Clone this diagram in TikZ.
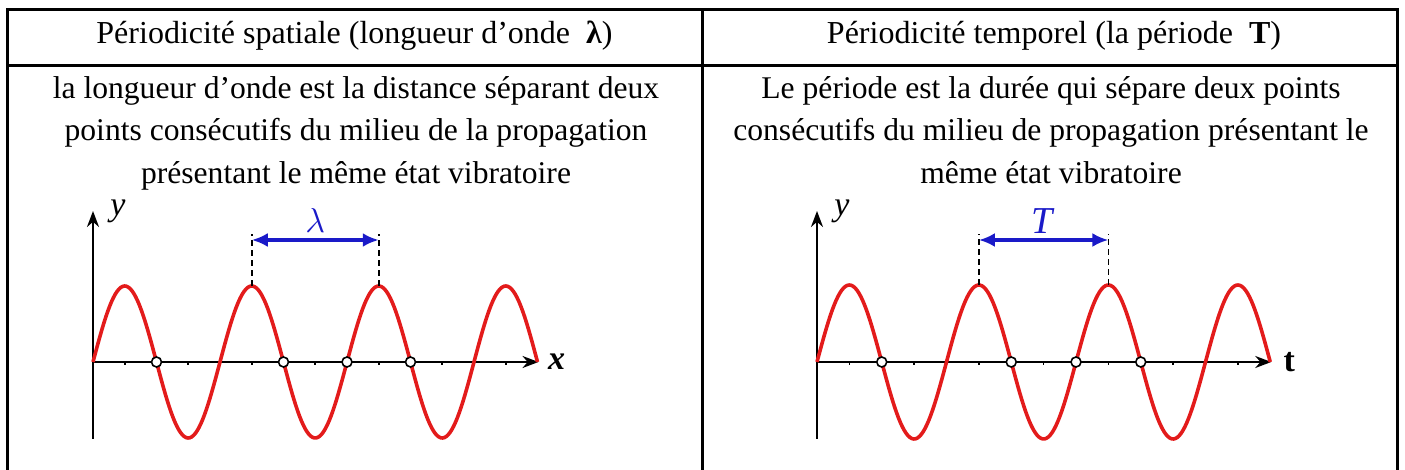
\documentclass[tikz,border=0pt]{standalone}
\usepackage{fontspec}
\setmainfont{Liberation Serif}
\usepackage{tikz}
\usetikzlibrary{arrows.meta, calc}
\definecolor{wavered}{HTML}{E31B1B}
\definecolor{dimblue}{HTML}{1A1AC8}

\begin{document}
\begin{tikzpicture}[x=0.5pt, y=-0.5pt,
    gridline/.style={line width=1.5pt},
    headtext/.style={font=\fontsize{16}{18}\selectfont, anchor=base, inner sep=0pt},
    bodytext/.style={font=\fontsize{15.8}{21.2}\selectfont, align=center, anchor=north, inner sep=0pt},
    labtext/.style={font=\fontsize{17}{18}\selectfont, inner sep=0pt},
    axisarrow/.style={line width=1.2pt, -{Stealth[length=8pt, width=6pt]}},
    wavecurve/.style={wavered, line width=1.8pt},
    guideline/.style={line width=0.8pt, dash pattern=on 3pt off 2pt},
    dimarrow/.style={dimblue, line width=1.6pt, {Latex[length=8pt, width=7pt]}-{Latex[length=8pt, width=7pt]}},
    zeropt/.style={circle, draw, fill=white, line width=0.8pt, inner sep=0pt, minimum size=5pt}]

  \useasboundingbox (0,0) rectangle (1405,470);

  % table
  \draw[gridline] (7,470) -- (7,10) -- (1397,10) -- (1397,470);
  \draw[gridline] (7,65.5) -- (1397,65.5);
  \draw[gridline] (702.5,10) -- (702.5,470);

  \node[headtext] (hspace) at (354.5,44) {Périodicité spatiale (longueur d’onde \ \textbf{λ})};
  \node[headtext] (htime) at (1054,44) {Périodicité temporel (la période \ \textbf{T})};

  \node[bodytext] (dspace) at (356,76) {la longueur d’onde est la distance séparant deux\\
    points consécutifs du milieu de la propagation\\
    présentant le même état vibratoire};
  \node[bodytext] (dtime) at (1051,76) {Le période est la durée qui sépare deux points\\
    consécutifs du milieu de propagation présentant le\\
    même état vibratoire};

  % the two waves
  \foreach \id/\ox/\per/\amp/\perlab/\axlab in
      {s/93/127/76/{$\lambda$}/{\textbf{\textit{x}}}, t/817/129.5/77/{\textit{T}}/{\textbf{t}}}{
    \begin{scope}[shift={(\ox,362)}]
      \coordinate (o\id) at (0,0);
      \coordinate (xe\id) at (3.5*\per+1,0);
      \coordinate (yt\id) at (0,-151);
      \coordinate (yb\id) at (0,77);
      \draw[axisarrow] (yb\id) -- (yt\id);
      \draw[axisarrow] (o\id) -- (xe\id);
      \foreach \k in {1,...,13}
        \draw[line width=0.8pt] (\k*\per/4,0) -- (\k*\per/4,3);
      \draw[wavecurve] plot[domain=0:3.5*\per, samples=240] (\x,{-\amp*sin(360/\per*\x)});
      \foreach \k in {1,3,4,5}
        \node[zeropt] (z\id\k) at (\k*\per/2,0) {};
      % period marks
      \coordinate (pa\id) at (1.25*\per,-\amp);
      \coordinate (pb\id) at (2.25*\per,-\amp);
      \coordinate (ta\id) at (1.25*\per,-128);
      \coordinate (tb\id) at (2.25*\per,-128);
      \coordinate (aa\id) at (1.25*\per,-122);
      \coordinate (ab\id) at (2.25*\per,-122);
      \draw[guideline] (pa\id) -- (ta\id);
      \draw[guideline] (pb\id) -- (tb\id);
      \draw[dimarrow] (aa\id) -- (ab\id);
      \node[labtext, dimblue, font=\fontsize{19}{20}\selectfont] (dl\id) at ($(aa\id)!0.5!(ab\id)+(0,-19)$) {\perlab};
      \node[labtext] (xl\id) at ($(xe\id)+(18,0)$) {\axlab};
      \node[labtext] (yl\id) at ($(yt\id)+(25,0)$) {\textit{y}};
    \end{scope}
  }
\end{tikzpicture}
\end{document}
